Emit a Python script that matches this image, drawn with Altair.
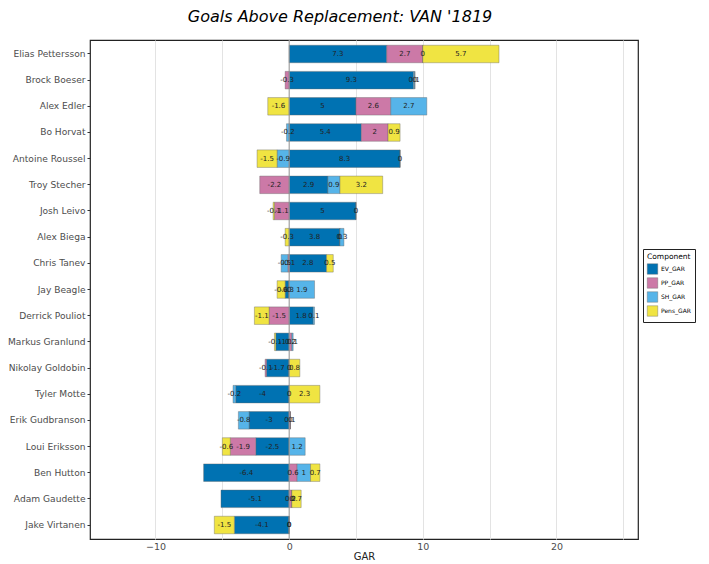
import altair as alt
import pandas as pd

players = ["Elias Pettersson", "Brock Boeser", "Alex Edler", "Bo Horvat", "Antoine Roussel",
           "Troy Stecher", "Josh Leivo", "Alex Biega", "Chris Tanev", "Jay Beagle",
           "Derrick Pouliot", "Markus Granlund", "Nikolay Goldobin", "Tyler Motte",
           "Erik Gudbranson", "Loui Eriksson", "Ben Hutton", "Adam Gaudette", "Jake Virtanen"]
ev_gar   = [7.3, 9.3, 5, 5.4, 8.3, 2.9, 5, 3.8, 2.8, -0.3, 1.8, -1.0, -1.7, -4, -3, -2.5, -6.4, -5.1, -4.1]
pp_gar   = [2.7, -0.3, 2.6, 2, 0, -2.2, -1.1, 0, -0.1, 0, -1.5, 0.2, -0.1, 0, 0.1, -1.9, 0.6, 0.2, 0]
sh_gar   = [0, 0.1, 2.7, -0.2, -0.9, 0.9, 0, 0.3, -0.5, 1.9, 0.1, 0.1, 0, -0.2, -0.8, 1.2, 1, 0, 0]
pens_gar = [5.7, 0, -1.6, 0.9, -1.5, 3.2, -0.1, -0.3, 0.5, -0.6, -1.1, -0.1, 0.8, 2.3, 0, -0.6, 0.7, 0.7, -1.5]

components = ["EV_GAR", "PP_GAR", "SH_GAR", "Pens_GAR"]
colors = ["#0072B2", "#CC79A7", "#56B4E9", "#F0E442"]

rows = []
for i, p in enumerate(players):
    for k, (c, arr) in enumerate(zip(components, [ev_gar, pp_gar, sh_gar, pens_gar])):
        rows.append({"player": p, "component": c, "value": arr[i], "order": k})
df = pd.DataFrame(rows)

xscale = alt.Scale(domain=[-14.9, 26.1], nice=False, zero=False)
grid_vals = [-10, -5, 0, 5, 10, 15, 20, 25]

base = alt.Chart(df).transform_stack(
    stack="value", groupby=["player"], as_=["x0", "x1"],
    sort=[alt.SortField("order", order="ascending")], offset="zero"
).transform_calculate(mid="(datum.x0 + datum.x1) / 2", lbl="toString(datum.value)")

yenc = alt.Y("player:N", sort=players, title=None,
             scale=alt.Scale(paddingInner=0.33, paddingOuter=0.2),
             axis=alt.Axis(labelFontSize=9.1, labelColor="#4d4d4d", tickColor="#333",
                           tickSize=3, domain=False, labelPadding=2, labelFont="DejaVu Sans"))

bars = base.mark_bar(stroke="#666", strokeWidth=0.4).encode(
    y=yenc,
    x=alt.X("x0:Q", scale=xscale, title="GAR",
            axis=alt.Axis(values=grid_vals, labelExpr="datum.value % 10 == 0 ? datum.label : ''",
                          ticks=False, grid=True, gridColor="#e3e3e3", gridWidth=1,
                          labelFontSize=9.5, labelColor="#4d4d4d", domain=False, labelPadding=2,
                          titleFontSize=10, titleFontWeight="normal", titleColor="#222",
                          labelFont="DejaVu Sans", titleFont="DejaVu Sans", titlePadding=1)),
    x2="x1:Q",
    color=alt.Color("component:N", scale=alt.Scale(domain=components, range=colors),
                    legend=alt.Legend(title="Component", orient="none", legendX=553, legendY=209,
                                      strokeColor="#222", padding=4, titleFontSize=7.5,
                                      labelFontSize=6, symbolType="square", symbolSize=110,
                                      symbolStrokeColor="#666", symbolStrokeWidth=0.4,
                                      titleFontWeight="normal", labelFont="DejaVu Sans",
                                      titleFont="DejaVu Sans", rowPadding=1, titlePadding=3,
                                      labelOffset=3, symbolOpacity=1))
)

zero_df = pd.DataFrame({"z": [0]})
zero = alt.Chart(zero_df).mark_rule(color="#999", strokeWidth=1).encode(x=alt.X("z:Q", scale=xscale))

text = base.mark_text(fontSize=7, color="#222", font="DejaVu Sans").encode(
    y=alt.Y("player:N", sort=players), x=alt.X("mid:Q", scale=xscale), text="lbl:N"
)

chart = alt.layer(bars, zero, text).properties(
    width=548, height=499,
    autosize=alt.AutoSizeParams(type="none"),
    padding={"left": 82, "top": 32, "right": 62, "bottom": 24},
    title=alt.TitleParams("Goals Above Replacement: VAN '1819", fontSize=16, fontStyle="italic",
                          fontWeight="normal", font="DejaVu Sans", anchor="middle", offset=15, dx=-24)
).configure_view(stroke="#222", strokeWidth=1.2)

chart.save("out.html", embed_options={"renderer": "svg", "actions": False})
